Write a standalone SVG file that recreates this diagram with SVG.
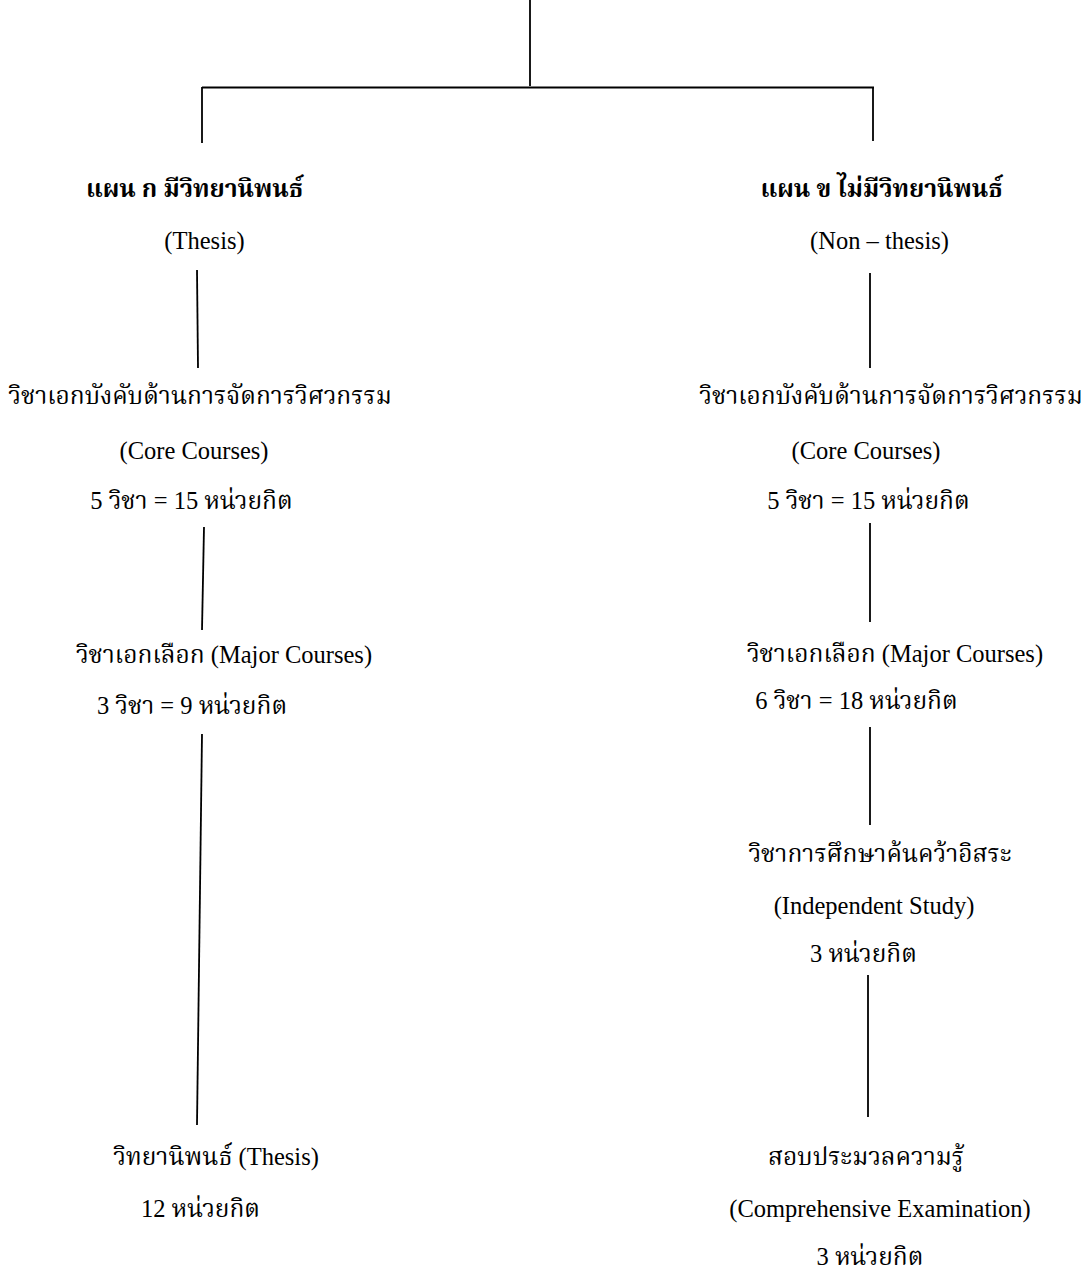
<svg xmlns="http://www.w3.org/2000/svg" width="1088" height="1273" viewBox="0 0 1088 1273">
<style>
text { font-family: "Liberation Serif", "Noto Serif Thai", "Noto Sans Thai", "DejaVu Serif", serif; font-size: 24.5px; fill: #000; text-anchor: middle; }
.b { font-weight: bold; }
.c { stroke: #000; stroke-width: 1.8; fill: none; }
</style>
<rect width="1088" height="1273" fill="#fff"/>
<g id="connectors">
<line class="c" x1="530" y1="0" x2="530" y2="86"/>
<line class="c" x1="202" y1="87.5" x2="874" y2="87.5" stroke-width="2.4"/>
<line class="c" x1="202" y1="87" x2="202" y2="143"/>
<line class="c" x1="873" y1="87" x2="873" y2="141"/>
<line class="c" x1="197" y1="270" x2="198" y2="368"/>
<line class="c" x1="870" y1="273" x2="870" y2="368"/>
<line class="c" x1="204" y1="527" x2="202" y2="630"/>
<line class="c" x1="870" y1="523" x2="870" y2="622"/>
<line class="c" x1="202" y1="734" x2="197" y2="1125"/>
<line class="c" x1="870" y1="727" x2="870" y2="825"/>
<line class="c" x1="868" y1="975" x2="868" y2="1117"/>
</g>
<g id="n-plan-a">
<text class="b" x="194.5" y="197">แผน ก มีวิทยานิพนธ์</text>
<text x="204.5" y="249">(Thesis)</text>
</g>
<g id="n-plan-b">
<text class="b" x="881.5" y="197">แผน ข ไม่มีวิทยานิพนธ์</text>
<text x="879.5" y="249">(Non – thesis)</text>
</g>
<g id="n-core-a">
<text x="200" y="404">วิชาเอกบังคับด้านการจัดการวิศวกรรม</text>
<text x="194" y="459">(Core Courses)</text>
<text x="191.5" y="509">5 วิชา = 15 หน่วยกิต</text>
</g>
<g id="n-core-b">
<text x="891" y="404">วิชาเอกบังคับด้านการจัดการวิศวกรรม</text>
<text x="866" y="459">(Core Courses)</text>
<text x="868.5" y="509">5 วิชา = 15 หน่วยกิต</text>
</g>
<g id="n-major-a">
<text x="224" y="663">วิชาเอกเลือก (Major Courses)</text>
<text x="192" y="714">3 วิชา = 9 หน่วยกิต</text>
</g>
<g id="n-major-b">
<text x="895" y="662">วิชาเอกเลือก (Major Courses)</text>
<text x="856.5" y="709">6 วิชา = 18 หน่วยกิต</text>
</g>
<g id="n-thesis">
<text x="216" y="1165">วิทยานิพนธ์ (Thesis)</text>
<text x="200.5" y="1217">12 หน่วยกิต</text>
</g>
<g id="n-is">
<text x="880" y="862">วิชาการศึกษาค้นคว้าอิสระ</text>
<text x="874" y="914">(Independent Study)</text>
<text x="863.5" y="962">3 หน่วยกิต</text>
</g>
<g id="n-exam">
<text x="866" y="1165">สอบประมวลความรู้</text>
<text x="880" y="1217">(Comprehensive Examination)</text>
<text x="870" y="1265">3 หน่วยกิต</text>
</g>
</svg>
